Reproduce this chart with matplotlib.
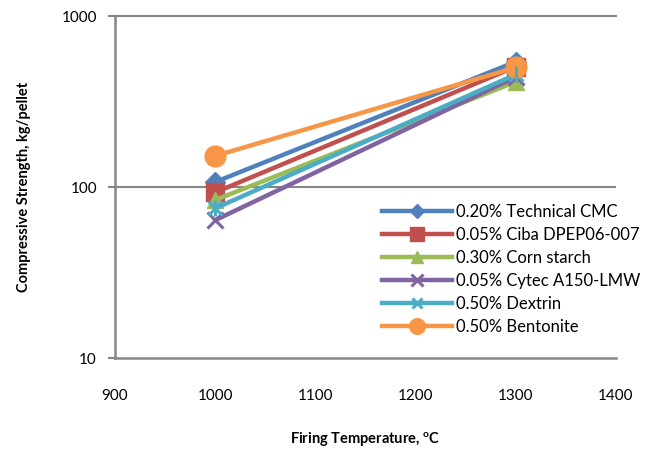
import matplotlib
matplotlib.use("Agg")
import matplotlib.pyplot as plt

plt.rcParams['font.family'] = ['Lato', 'DejaVu Sans']
plt.rcParams['mathtext.fontset'] = 'custom'
plt.rcParams['mathtext.rm'] = 'Lato'
plt.rcParams['mathtext.bf'] = 'Lato:bold'

temps = [1000, 1300]
labels = ["0.20% Technical CMC", "0.05% Ciba DPEP06-007", "0.30% Corn starch",
          "0.05% Cytec A150-LMW", "0.50% Dextrin", "0.50% Bentonite"]
cmc = [107, 540]
ciba = [93, 505]
corn = [84, 412]
cytec = [64, 440]
dextrin = [75, 455]
bentonite = [152, 500]
series = [cmc, ciba, corn, cytec, dextrin, bentonite]
colors = ["#4F81BD", "#C0504D", "#9BBB59", "#8064A2", "#4BACC6", "#F79646"]
markers = ["D", "s", "^", "x", "x", "o"]
msizes = [10, 13, 12, 12, 10, 15]

fig = plt.figure(figsize=(6.52, 4.51), dpi=100)
ax = fig.add_axes([0.1764, 0.2062, 0.9448 - 0.1764, 0.9645 - 0.2062])

for vals, lab, c, m, ms in zip(series, labels, colors, markers, msizes):
    kw = dict(color=c, lw=3.2, marker=m, markersize=ms, label=lab)
    if m == "x":
        kw.update(markeredgewidth=2.2)
    ax.plot(temps, vals, **kw)
# dextrin asterisk extra stroke
ax.plot(temps, dextrin, color=colors[4], lw=0, marker="|", markersize=11, markeredgewidth=2.2)

ax.set_yscale("log")
ax.set_ylim(10, 1000)
ax.set_xlim(900, 1400)
ax.set_xticks([900, 1000, 1100, 1200, 1300, 1400])
ax.set_yticks([10, 100, 1000])
ax.set_yticklabels(["10", "100", "1000"])
ax.yaxis.set_minor_locator(matplotlib.ticker.NullLocator())

for s in ["top", "right"]:
    ax.spines[s].set_visible(False)
for s in ["left", "bottom"]:
    ax.spines[s].set_color("#868686")
    ax.spines[s].set_linewidth(1.8)
ax.axhline(100, color="#868686", lw=1.5, zorder=0)
ax.axhline(1000, color="#868686", lw=1.5, zorder=0, clip_on=False)

ax.tick_params(axis="y", direction="out", length=5, width=1.5, color="#868686",
               labelsize=11, pad=8)
ax.tick_params(axis="x", length=0, labelsize=11, pad=22)

ax.set_xlabel(r"Firing Temperature, $^{\mathbf{o}}$C", fontsize=10.5, fontweight="bold", labelpad=20)
ax.set_ylabel("Compressive Strength, kg/pellet", fontsize=10.5, fontweight="bold", labelpad=22)

handles, labs = ax.get_legend_handles_labels()
leg = ax.legend(handles[:6], labs[:6], loc="upper left", bbox_to_anchor=(0.52, 0.47),
                frameon=False, fontsize=12, handlelength=4.2, labelspacing=0.42,
                handletextpad=0.25, borderaxespad=0, markerscale=0.75)

fig.savefig("out.png", dpi=100)
